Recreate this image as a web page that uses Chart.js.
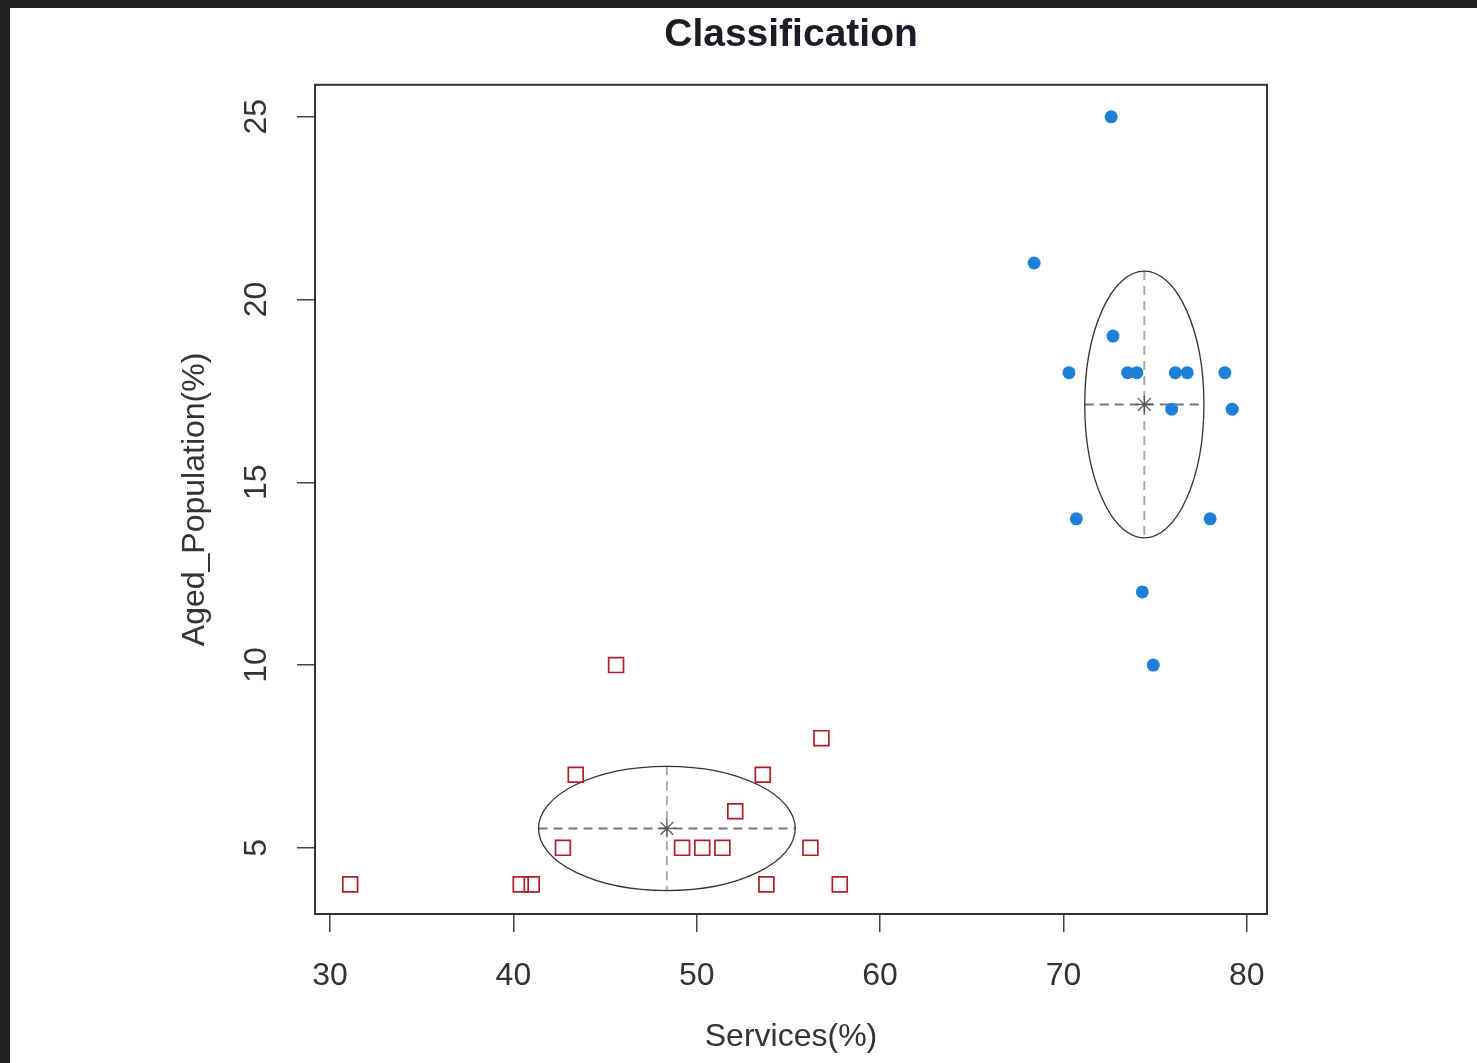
<!DOCTYPE html>
<html>
<head>
<meta charset="utf-8">
<script src="https://cdn.jsdelivr.net/npm/chart.js@4"></script>
<style>
  html, body { margin: 0; padding: 0; background: #222; }
  #wrap { position: absolute; left: 10px; top: 8px; width: 1467px; height: 1055px; background: #fff; }
</style>
</head>
<body>
<div id="wrap"><canvas id="chartClass" width="1467" height="1055"></canvas></div>
<script>
/* ─── Data ───────────────────────────────────────────────── */
const redX  = [31.1, 40.4, 41.0, 42.7, 43.4, 45.6, 49.2, 50.3, 51.4, 52.1, 53.6, 53.8, 56.2, 56.8, 57.8];
const redY  = [4, 4, 4, 5, 7, 10, 5, 5, 5, 6, 7, 4, 5, 8, 4];
const blueX = [72.6, 68.4, 72.7, 70.3, 73.5, 74.0, 76.1, 76.75, 78.8, 75.9, 79.2, 70.7, 78.0, 74.3, 74.9];
const blueY = [25, 21, 19, 18, 18, 18, 18, 18, 18, 17, 17, 14, 14, 12, 10];

// cluster centres and ellipse half-axes (x, y)
const centerX = [48.37, 74.41];
const centerY = [5.53, 17.13];
const radiusX = [7.0, 3.25];
const radiusY = [1.7, 3.65];

const xTicks = [30, 40, 50, 60, 70, 80];
const yTicks = [5, 10, 15, 20, 25];

/* ─── Styles ─────────────────────────────────────────────── */
const FONT   = '"Liberation Sans", Arial, Helvetica, sans-serif';
const TEXT   = '#333';
const RED    = '#b01e2a';
const BLUE   = '#1f7fd6';

const toPoints = (xs, ys) => xs.map((x, i) => ({ x, y: ys[i] }));

const tickGrid = {
  display: true,
  drawOnChartArea: false,
  drawTicks: true,
  tickLength: 18,
  color: '#444',
  lineWidth: 1.5,
};

/* ─── Box + ellipses plugin ──────────────────────────────── */
const clusterShapes = {
  id: 'clusterShapes',
  beforeDatasetsDraw(chart) {
    const { ctx, scales: { x, y } } = chart;
    ctx.save();
    centerX.forEach((cx, i) => {
      const px = x.getPixelForValue(cx);
      const py = y.getPixelForValue(centerY[i]);
      const rx = x.getPixelForValue(cx + radiusX[i]) - px;
      const ry = py - y.getPixelForValue(centerY[i] + radiusY[i]);

      ctx.setLineDash([9, 6]);
      ctx.lineWidth = 2;
      ctx.strokeStyle = '#777';
      ctx.beginPath();
      ctx.moveTo(px - rx, py);
      ctx.lineTo(px + rx, py);
      ctx.stroke();
      ctx.strokeStyle = '#aaa';
      ctx.beginPath();
      ctx.moveTo(px, py - ry);
      ctx.lineTo(px, py + ry);
      ctx.stroke();

      ctx.setLineDash([]);
      ctx.lineWidth = 1.3;
      ctx.strokeStyle = '#333';
      ctx.beginPath();
      ctx.ellipse(px, py, rx, ry, 0, 0, Math.PI * 2);
      ctx.stroke();
    });
    ctx.restore();
  },
  afterDraw(chart) {
    const { ctx, chartArea: a } = chart;
    ctx.save();
    ctx.lineWidth = 2;
    ctx.strokeStyle = '#333';
    ctx.strokeRect(a.left, a.top, a.right - a.left, a.bottom - a.top);
    ctx.restore();
  },
};

/* ─── Chart ──────────────────────────────────────────────── */
new Chart(document.getElementById('chartClass'), {
  type: 'scatter',
  data: {
    datasets: [
      {
        label: 'Cluster 1',
        data: toPoints(redX, redY),
        pointStyle: 'rect',
        pointRadius: 10.5,
        backgroundColor: 'rgba(0,0,0,0)',
        borderColor: RED,
        borderWidth: 1.7,
      },
      {
        label: 'Cluster 2',
        data: toPoints(blueX, blueY),
        pointStyle: 'circle',
        pointRadius: 6.5,
        backgroundColor: BLUE,
        borderColor: BLUE,
        borderWidth: 0,
      },
      {
        label: 'Centres',
        data: toPoints(centerX, centerY),
        pointStyle: 'star',
        pointRadius: 9,
        backgroundColor: 'rgba(0,0,0,0)',
        borderColor: '#555',
        borderWidth: 1.3,
      },
    ],
  },
  options: {
    responsive: false,
    animation: false,
    events: [],
    layout: { padding: { left: 140, right: 210, top: 0, bottom: 0 } },
    plugins: {
      legend: { display: false },
      tooltip: { enabled: false },
      title: {
        display: true,
        fullSize: false,
        text: 'Classification',
        color: '#1c1c28',
        font: { family: FONT, size: 39, weight: 'bold' },
        padding: { top: 4, bottom: 26 },
      },
    },
    scales: {
      x: {
        type: 'linear',
        min: 29.18,
        max: 81.1,
        grid: tickGrid,
        border: { display: false },
        afterBuildTicks: s => { s.ticks = xTicks.map(v => ({ value: v })); },
        afterFit: s => { s.height = 149; },
        ticks: { color: TEXT, font: { family: FONT, size: 32 }, padding: 25 },
        title: {
          display: true,
          text: 'Services(%)',
          color: TEXT,
          font: { family: FONT, size: 32 },
          padding: { top: 0, bottom: 7 },
        },
      },
      y: {
        type: 'linear',
        min: 3.19,
        max: 25.875,
        grid: tickGrid,
        border: { display: false },
        afterBuildTicks: s => { s.ticks = yTicks.map(v => ({ value: v })); },
        afterFit: s => { s.width = 165; },
        ticks: {
          color: TEXT,
          font: { family: FONT, size: 32 },
          padding: 22,
          minRotation: 90,
          maxRotation: 90,
          crossAlign: 'center',
        },
        title: {
          display: true,
          text: 'Aged_Population(%)',
          color: TEXT,
          font: { family: FONT, size: 32 },
          padding: { top: 26, bottom: 0 },
        },
      },
    },
  },
  plugins: [clusterShapes],
});
</script>
</body>
</html>
